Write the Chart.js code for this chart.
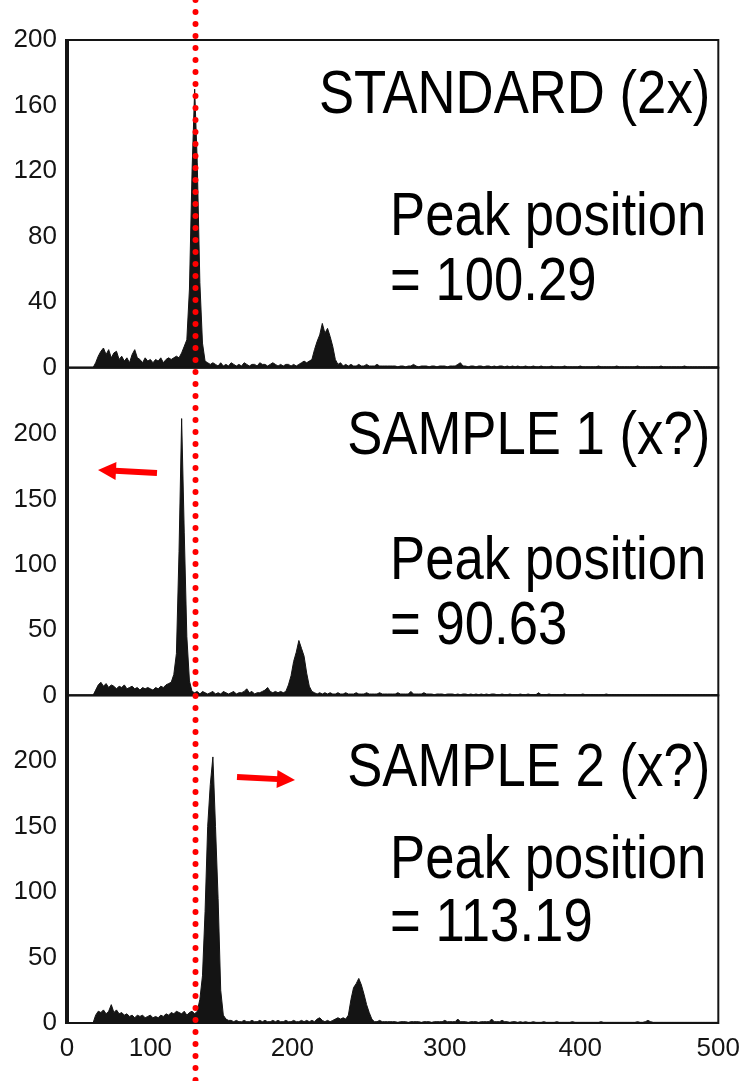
<!DOCTYPE html>
<html>
<head>
<meta charset="utf-8">
<script src="https://cdn.jsdelivr.net/npm/chart.js@4.4.1/dist/chart.umd.min.js"></script>
<style>
  html, body { margin: 0; padding: 0; background: #fff; }
  canvas { display: block; }
</style>
</head>
<body>
<canvas id="facs" width="750" height="1081"></canvas>
<script>
// --- data (channel bins of 2) ---
const channels = Array.from({ length: 251 }, (_, i) => i * 2);

const standardCounts = [
  0,0,0,0,0,0,0,0,0,0,0,3,7,10,12,8,11,6,9,10,5,7,4,6,3,
  8,11,6,5,3,6,4,5,3,5,4,6,3,5,6,5,6,7,6,9,13,17,48,120,170,
  125,52,15,4,3,2,3,2,1,3,1,2,1,3,2,1,2,1,3,2,1,2,2,1,3,
  2,2,1,2,3,2,1,2,1,2,2,1,2,1,2,3,4,3,4,5,11,16,20,27,21,
  24,19,13,5,2,3,1,2,1,2,1,1,2,1,1,2,1,1,1,2,1,1,1,1,1,
  1,1,0.5,1,1,0.5,1,1,2,1,0.5,1,1,1,0.5,1,1,0.5,1,1,1,0.5,1,1,1,
  2,3,1,1,0.5,1,1,0.5,1,1,0.5,1,1,0.5,1,0.5,1,1,0.5,1,0.5,1,0.5,1,0.5,
  0.5,1,0.5,0.5,1,0.5,0.5,1,0.5,0.5,0.5,1,0.5,0.5,0.5,0.5,1,0.5,0.5,0.5,0.5,0.5,1,0.5,0.5,
  0.5,0.5,0.5,0.5,1,0.5,0.5,0.5,0.5,0.5,0.5,1,0.5,0.5,0.5,0.5,0.5,0.5,0.5,1,0.5,0.5,0.5,0.5,0.5,
  0.5,0.5,0.5,1,0.5,0.5,0.5,0.5,0.5,0.5,0.5,0.5,1,0.5,0.5,0.5,0.5,0.5,0.5,0.5,0.5,0.5,0.5,0.5,0.5,
  0.5
];

const sample1Counts = [
  0,0,0,0,0,0,0,0,0,0,0,4,8,10,7,9,6,8,7,5,7,6,8,5,6,
  7,5,6,4,6,5,6,5,4,6,5,7,6,8,9,10,16,32,110,212,125,45,11,3,2,
  3,1,3,2,1,2,3,1,2,1,3,2,1,2,3,1,2,2,3,5,2,3,1,2,2,
  3,4,6,3,2,3,2,3,2,3,8,15,26,33,42,36,30,17,7,3,2,1,2,1,2,
  1,2,1,1,2,1,1,2,1,1,1,2,1,1,1,2,1,1,1,1,2,1,1,1,1,
  1,1,2,1,1,1,1,3,1,1,1,1,2,1,1,1,0.5,1,1,1,0.5,1,1,1,0.5,
  1,0.5,1,1,0.5,1,0.5,1,0.5,1,0.5,1,0.5,1,1,0.5,0.5,1,0.5,0.5,1,0.5,0.5,0.5,1,
  0.5,0.5,1,0.5,0.5,0.5,2,0.5,0.5,0.5,1,0.5,0.5,0.5,0.5,0.5,1,0.5,0.5,0.5,0.5,0.5,0.5,1,0.5,
  0.5,0.5,0.5,0.5,0.5,0.5,0.5,1,0.5,0.5,0.5,0.5,0.5,0.5,0.5,0.5,0.5,0.5,0.5,0.5,0.5,0.5,0.5,0.5,0.5,
  0.5,0.5,0.5,0.5,0.5,0.5,0.5,0.5,0.5,0.5,0.5,0.5,0.5,0.5,0.5,0.5,0.5,0.5,0.5,0.5,0.5,0.5,0.5,0.5,0.5,
  0.5
];

const sample2Counts = [
  0,0,0,0,0,0,0,0,0,0,0,6,9,8,10,7,9,14,8,10,7,8,6,7,5,
  6,4,6,5,6,4,5,6,4,5,4,6,5,7,6,8,7,9,8,7,9,6,8,9,7,
  9,18,36,85,150,182,203,150,95,25,6,3,2,2,1,2,1,1,2,1,1,2,1,1,2,
  1,2,1,1,2,1,2,1,1,2,1,1,2,1,1,2,1,2,1,2,1,3,4,2,1,
  2,1,2,3,4,3,4,3,6,18,27,30,34,29,22,14,8,3,1,1,2,1,1,1,1,
  1,1,0.5,1,1,1,0.5,1,1,1,1,0.5,1,1,1,0.5,1,1,1,1,2,1,1,1,1,
  3,1,1,1,0.5,1,1,1,0.5,1,1,1,1,3,1,1,1,2,1,1,0.5,1,1,0.5,1,
  0.5,1,0.5,0.5,1,0.5,0.5,0.5,1,0.5,0.5,0.5,0.5,1,0.5,0.5,0.5,0.5,0.5,1,0.5,0.5,0.5,0.5,0.5,
  0.5,0.5,0.5,0.5,0.5,1,0.5,0.5,0.5,0.5,0.5,0.5,0.5,0.5,0.5,0.5,0.5,0.5,0.5,1,0.5,0.5,1,2,1,
  0.5,0.5,0.5,0.5,0.5,0.5,0.5,0.5,0.5,0.5,0.5,0.5,0.5,0.5,0.5,0.5,0.5,0.5,0.5,0.5,0.5,0.5,0.5,0.5,0.5,
  0.5
];

const panelTitles = ['STANDARD (2x)', 'SAMPLE 1 (x?)', 'SAMPLE 2 (x?)'];
const peakPositions = ['100.29', '90.63', '113.19'];
const panelMax = [200, 251, 250];
const panelTicks = [
  [0, 40, 80, 120, 160, 200],
  [0, 50, 100, 150, 200],
  [0, 50, 100, 150, 200]
];

// x tick labels sit where the figure has them (not evenly spaced)
const xTickValues = [0, 64, 173, 290, 394, 500];
const xTickLabels = ['0', '100', '200', '300', '400', '500'];

// --- styles / layout ---
const INK = '#141414';
const RED = '#ff0000';
const FONT = "'Liberation Sans', Arial, Helvetica, sans-serif";
const panelIds = ['y1', 'y2', 'y3'];
// baseline offsets of the three text lines, measured from each panel top
const textOffsets = [[73, 195, 260], [86, 211, 276], [91, 183, 246]];
const arrows = [null, { from: [157, 473], to: [98, 470] }, { from: [237, 777], to: [295, 780] }];

const series = [standardCounts, sample1Counts, sample2Counts];

function drawArrow(ctx, from, to) {
  const ang = Math.atan2(to[1] - from[1], to[0] - from[0]);
  const head = 18, half = 9;
  const bx = to[0] - head * Math.cos(ang), by = to[1] - head * Math.sin(ang);
  ctx.save();
  ctx.strokeStyle = RED;
  ctx.fillStyle = RED;
  ctx.lineWidth = 6;
  ctx.lineCap = 'butt';
  ctx.beginPath();
  ctx.moveTo(from[0], from[1]);
  ctx.lineTo(bx + Math.cos(ang), by + Math.sin(ang));
  ctx.stroke();
  ctx.beginPath();
  ctx.moveTo(to[0], to[1]);
  ctx.lineTo(bx + half * Math.sin(ang), by - half * Math.cos(ang));
  ctx.lineTo(bx - half * Math.sin(ang), by + half * Math.cos(ang));
  ctx.closePath();
  ctx.fill();
  ctx.restore();
}

function condensedText(ctx, text, x, y, align) {
  ctx.save();
  ctx.font = '62px ' + FONT;
  ctx.fillStyle = '#000';
  ctx.textBaseline = 'alphabetic';
  ctx.textAlign = align;
  ctx.translate(x, y);
  ctx.scale(0.85, 1);
  ctx.fillText(text, 0, 0);
  ctx.restore();
}

const overlayPlugin = {
  id: 'overlay',
  afterDatasetsDraw(chart) {
    const ctx = chart.ctx;
    const x = chart.scales.x;
    panelIds.forEach((id, i) => {
      const s = chart.scales[id];
      ctx.save();
      ctx.strokeStyle = INK;
      ctx.lineWidth = 2;
      ctx.strokeRect(x.left, s.top, x.right - x.left, s.bottom - s.top);
      ctx.lineWidth = 4;
      ctx.beginPath();
      ctx.moveTo(x.left, s.top - 1);
      ctx.lineTo(x.left, s.bottom + 1);
      ctx.stroke();
      ctx.restore();

      const off = textOffsets[i];
      condensedText(ctx, panelTitles[i], x.right - 8, s.top + off[0], 'right');
      condensedText(ctx, 'Peak position', 390, s.top + off[1], 'left');
      condensedText(ctx, '= ' + peakPositions[i], 390, s.top + off[2], 'left');
      if (arrows[i]) drawArrow(ctx, arrows[i].from, arrows[i].to);
    });
  },
  afterDraw(chart) {
    // dotted reference line through the standard's peak channel
    const ctx = chart.ctx;
    const peakIdx = standardCounts.indexOf(Math.max(...standardCounts));
    const px = Math.round(chart.scales.x.getPixelForValue(channels[peakIdx])) + 0.5;
    ctx.save();
    ctx.strokeStyle = RED;
    ctx.lineWidth = 6;
    ctx.lineCap = 'round';
    ctx.setLineDash([0, 12]);
    ctx.beginPath();
    ctx.moveTo(px, 0);
    ctx.lineTo(px, chart.height);
    ctx.stroke();
    ctx.restore();
  }
};

const tickFont = { family: FONT, size: 26 };

function panelScale(i) {
  return {
    type: 'linear',
    position: 'left',
    stack: 'panels',
    stackWeight: 1,
    weight: 3 - i,
    min: 0,
    max: panelMax[i],
    grid: { display: false, drawTicks: false },
    border: { display: false },
    ticks: { padding: 10, color: INK, font: tickFont },
    afterBuildTicks: (scale) => { scale.ticks = panelTicks[i].map(v => ({ value: v })); },
    afterFit: (scale) => { scale.width = 67; }
  };
}

const scales = {
  x: {
    type: 'linear',
    position: 'bottom',
    min: 0,
    max: 500,
    grid: { display: false, drawTicks: false },
    border: { display: false },
    ticks: {
      autoSkip: false,
      maxRotation: 0,
      minRotation: 0,
      padding: 10,
      color: INK,
      font: tickFont,
      callback: (v, i) => xTickLabels[i]
    },
    afterBuildTicks: (scale) => { scale.ticks = xTickValues.map(v => ({ value: v })); },
    afterFit: (scale) => { scale.height = 58; }
  }
};
panelIds.forEach((id, i) => { scales[id] = panelScale(i); });

new Chart(document.getElementById('facs'), {
  type: 'line',
  data: {
    datasets: series.map((vals, i) => ({
      label: panelTitles[i],
      data: vals.map((v, j) => ({ x: channels[j], y: v })),
      yAxisID: panelIds[i],
      borderColor: INK,
      backgroundColor: INK,
      borderWidth: 1,
      pointRadius: 0,
      tension: 0,
      fill: 'origin'
    }))
  },
  options: {
    responsive: false,
    animation: false,
    devicePixelRatio: 1,
    layout: { padding: { top: 40, right: 30, left: 0, bottom: 0 } },
    plugins: { legend: { display: false }, tooltip: { enabled: false } },
    scales: scales
  },
  plugins: [overlayPlugin]
});
</script>
</body>
</html>
